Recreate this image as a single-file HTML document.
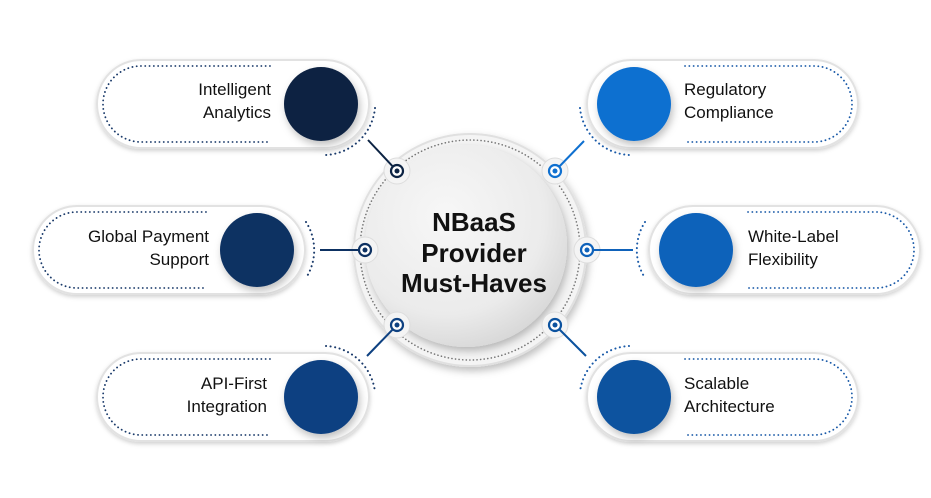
<!DOCTYPE html>
<html><head><meta charset="utf-8"><style>
html,body{margin:0;padding:0;background:#fff;}
svg{display:block;}
text{font-family:"Liberation Sans",sans-serif;}
</style></head><body>
<svg width="931" height="498" viewBox="0 0 931 498" xmlns="http://www.w3.org/2000/svg">
<defs>
<radialGradient id="cg" cx="0.4" cy="0.35" r="0.7">
<stop offset="0" stop-color="#f7f7f7"/><stop offset="0.7" stop-color="#ebebeb"/><stop offset="1" stop-color="#d6d6d6"/>
</radialGradient>
<filter id="sh" x="-20%" y="-20%" width="140%" height="140%"><feDropShadow dx="2" dy="4" stdDeviation="4" flood-color="#000" flood-opacity="0.25"/></filter>
<filter id="sh2" x="-20%" y="-20%" width="140%" height="140%"><feDropShadow dx="0" dy="2" stdDeviation="2" flood-color="#000" flood-opacity="0.18"/></filter>
</defs>

<!-- pills -->
<g fill="#fff" stroke="#e2e2e2" stroke-width="2" filter="url(#sh2)">
<rect x="97" y="60" width="272" height="88" rx="44"/>
<rect x="33" y="206" width="272" height="88" rx="44"/>
<rect x="97" y="353" width="272" height="88" rx="44"/>
<rect x="587" y="60" width="271" height="88" rx="44"/>
<rect x="649" y="206" width="271" height="88" rx="44"/>
<rect x="587" y="353" width="271" height="88" rx="44"/>
</g>
<g fill="none" stroke="#1a3a6a" stroke-width="1.8" stroke-dasharray="0.1 4.2" stroke-linecap="round">
<path d="M270 66 H141 A38 38 0 0 0 141 142 H270"/>
<path d="M206 212 H77 A38 38 0 0 0 77 288 H206"/>
<path d="M270 359 H141 A38 38 0 0 0 141 435 H270"/>
</g>
<g fill="none" stroke="#1a5aa8" stroke-width="1.8" stroke-dasharray="0.1 4.2" stroke-linecap="round">
<path d="M685 66 H814 A38 38 0 0 1 814 142 H685"/>
<path d="M748 212 H876 A38 38 0 0 1 876 288 H748"/>
<path d="M685 359 H814 A38 38 0 0 1 814 435 H685"/>
</g>
<!-- outer dotted arcs near circles -->
<g fill="none" stroke="#1a3a6a" stroke-width="2" stroke-dasharray="0.1 4.5" stroke-linecap="round">
<path d="M375 108 A52 52 0 0 1 326 155"/>
<path d="M306 222 A52 52 0 0 1 306 278"/>
<path d="M326 346 A52 52 0 0 1 375 392"/>
</g>
<g fill="none" stroke="#1a5aa8" stroke-width="2" stroke-dasharray="0.1 4.5" stroke-linecap="round">
<path d="M580 108 A52 52 0 0 0 629 155"/>
<path d="M645 222 A52 52 0 0 0 645 278"/>
<path d="M629 346 A52 52 0 0 0 580 392"/>
</g>

<!-- colored circles -->
<g filter="url(#sh)">
<circle cx="321" cy="104" r="37" fill="#0c2343"/>
<circle cx="257" cy="250" r="37" fill="#0d3162"/>
<circle cx="321" cy="397" r="37" fill="#0e4181"/>
<circle cx="634" cy="104" r="37" fill="#0f70d0"/>
<circle cx="696" cy="250" r="37" fill="#0f62ba"/>
<circle cx="634" cy="397" r="37" fill="#0b529f"/>
</g>

<!-- labels -->
<g font-size="17" fill="#111">
<text x="271" y="95" text-anchor="end">Intelligent</text>
<text x="271" y="118" text-anchor="end">Analytics</text>
<text x="209" y="242" text-anchor="end">Global Payment</text>
<text x="209" y="265" text-anchor="end">Support</text>
<text x="267" y="389" text-anchor="end">API-First</text>
<text x="267" y="412" text-anchor="end">Integration</text>
<text x="684" y="95">Regulatory</text>
<text x="684" y="118">Compliance</text>
<text x="748" y="242">White-Label</text>
<text x="748" y="265">Flexibility</text>
<text x="684" y="389">Scalable</text>
<text x="684" y="412">Architecture</text>
</g>

<!-- center -->
<circle cx="470" cy="250" r="116" fill="#f4f4f4" stroke="#e0e0e0" stroke-width="2" filter="url(#sh)"/>
<circle cx="470" cy="250" r="110" fill="none" stroke="#777" stroke-width="1.6" stroke-dasharray="0.1 3.5" stroke-linecap="round"/>
<circle cx="466" cy="246" r="101" fill="url(#cg)" filter="url(#sh)"/>
<g fill="#f4f4f4" stroke="#ddd" stroke-width="1">
<circle cx="397" cy="171" r="13"/><circle cx="365" cy="250" r="13"/><circle cx="397" cy="325" r="13"/>
<circle cx="555" cy="171" r="13"/><circle cx="587" cy="250" r="13"/><circle cx="555" cy="325" r="13"/>
</g>
<g font-size="26" font-weight="bold" fill="#111" text-anchor="middle">
<text x="474" y="231">NBaaS</text>
<text x="474" y="262">Provider</text>
<text x="474" y="292">Must-Haves</text>
</g>

<!-- connectors -->
<g stroke-width="2" fill="none">
<line x1="397" y1="171" x2="368" y2="140" stroke="#0c2343"/>
<line x1="365" y1="250" x2="320" y2="250" stroke="#0d3162"/>
<line x1="397" y1="325" x2="367" y2="356" stroke="#0e4181"/>
<line x1="555" y1="171" x2="584" y2="141" stroke="#0f70d0"/>
<line x1="587" y1="250" x2="633" y2="250" stroke="#0f62ba"/>
<line x1="555" y1="325" x2="586" y2="356" stroke="#0b529f"/>
</g>
<g stroke-width="2.2" fill="#fff">
<circle cx="397" cy="171" r="6" stroke="#0c2343"/><circle cx="365" cy="250" r="6" stroke="#0d3162"/><circle cx="397" cy="325" r="6" stroke="#0e4181"/>
<circle cx="555" cy="171" r="6" stroke="#0f70d0"/><circle cx="587" cy="250" r="6" stroke="#0f62ba"/><circle cx="555" cy="325" r="6" stroke="#0b529f"/>
</g>
<circle cx="397" cy="171" r="2.5" fill="#0c2343"/><circle cx="365" cy="250" r="2.5" fill="#0d3162"/><circle cx="397" cy="325" r="2.5" fill="#0e4181"/>
<circle cx="555" cy="171" r="2.5" fill="#0f70d0"/><circle cx="587" cy="250" r="2.5" fill="#0f62ba"/><circle cx="555" cy="325" r="2.5" fill="#0b529f"/>
</svg>
</body></html>
